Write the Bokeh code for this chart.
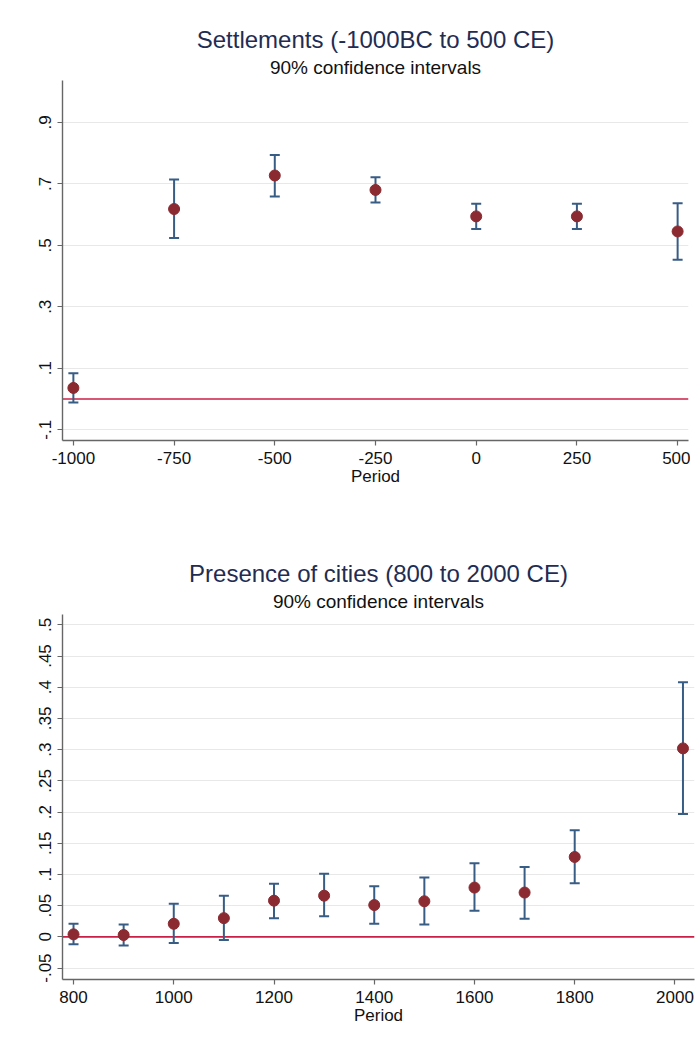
from bokeh.plotting import figure
from bokeh.models import Range1d, FixedTicker, Span, Title, ColumnDataSource
from bokeh.layouts import column
from bokeh.embed import file_html
from bokeh.resources import INLINE

# ---- data: Settlements (-1000BC to 500 CE)
periods1 = [-1000, -750, -500, -250, 0, 250, 500]
coef1 = [0.036, 0.618, 0.727, 0.680, 0.594, 0.594, 0.545]
lo1 = [-0.011, 0.524, 0.659, 0.639, 0.553, 0.553, 0.453]
hi1 = [0.084, 0.714, 0.794, 0.721, 0.635, 0.635, 0.637]
xticks1 = [-1000, -750, -500, -250, 0, 250, 500]
xlabels1 = ["-1000", "-750", "-500", "-250", "0", "250", "500"]
yticks1 = [-0.1, 0.1, 0.3, 0.5, 0.7, 0.9]
ylabels1 = ["-.1", ".1", ".3", ".5", ".7", ".9"]

# ---- data: Presence of cities (800 to 2000 CE)
periods2 = [800, 900, 1000, 1100, 1200, 1300, 1400, 1500, 1600, 1700, 1800, 2016]
coef2 = [0.004, 0.003, 0.021, 0.030, 0.058, 0.066, 0.051, 0.057, 0.079, 0.071, 0.128, 0.302]
lo2 = [-0.012, -0.014, -0.010, -0.005, 0.030, 0.033, 0.021, 0.020, 0.042, 0.029, 0.086, 0.197]
hi2 = [0.021, 0.020, 0.053, 0.066, 0.085, 0.101, 0.081, 0.095, 0.118, 0.112, 0.171, 0.408]
xticks2 = [800, 1000, 1200, 1400, 1600, 1800, 2000]
xlabels2 = ["800", "1000", "1200", "1400", "1600", "1800", "2000"]
yticks2 = [-0.05, 0, 0.05, 0.1, 0.15, 0.2, 0.25, 0.3, 0.35, 0.4, 0.45, 0.5]
ylabels2 = ["-.05", "0", ".05", ".1", ".15", ".2", ".25", ".3", ".35", ".4", ".45", ".5"]

FONT = "Liberation Sans"
TITLE_C = "#1f2d52"
DOT_C = "#8b2a30"
BAR_C = "#385d85"
ZERO_C = "#cc1f46"
AXIS_C = "#666666"
GRID_C = "#e8e8e8"


def make_panel(title, subtitle, x, y, lo, hi, xr, yr, xticks, xlabels, yticks, ylabels,
               width, height, mb_left, mb_right, mb_top, mb_bottom):
    p = figure(width=width, height=height, output_backend="svg", toolbar_location=None,
               x_range=Range1d(*xr), y_range=Range1d(*yr),
               min_border_left=mb_left, min_border_right=mb_right,
               min_border_top=mb_top, min_border_bottom=mb_bottom)
    p.outline_line_color = None
    p.background_fill_color = "white"
    p.border_fill_color = "white"

    sub = Title(text=subtitle, align="center", text_font=FONT, text_font_size="19px",
                text_font_style="normal", text_color="#111111", standoff=5)
    main = Title(text=title, align="center", text_font=FONT, text_font_size="24px",
                 text_font_style="normal", text_color=TITLE_C, standoff=0)
    p.add_layout(sub, "above")
    p.add_layout(main, "above")

    # grid
    p.xgrid.grid_line_color = None
    p.ygrid.grid_line_color = GRID_C
    p.ygrid.grid_line_width = 1.2

    # axes
    p.xaxis.ticker = FixedTicker(ticks=xticks)
    p.xaxis.major_label_overrides = {t: l for t, l in zip(xticks, xlabels)}
    p.yaxis.ticker = FixedTicker(ticks=yticks)
    p.yaxis.major_label_overrides = {t: l for t, l in zip(yticks, ylabels)}
    p.yaxis.major_label_orientation = "vertical"
    p.xaxis.axis_label = "Period"
    for ax in (p.xaxis, p.yaxis):
        ax.axis_line_color = AXIS_C
        ax.axis_line_width = 1.4
        ax.major_tick_line_color = AXIS_C
        ax.major_tick_line_width = 1.2
        ax.major_tick_out = 5
        ax.major_tick_in = 0
        ax.minor_tick_line_color = None
        ax.major_label_text_font = FONT
        ax.major_label_text_font_size = "17px"
        ax.major_label_text_color = "#111111"
        ax.major_label_standoff = 6
    p.xaxis.axis_label_text_font = FONT
    p.xaxis.axis_label_text_font_size = "17px"
    p.xaxis.axis_label_text_font_style = "normal"
    p.xaxis.axis_label_text_color = "#111111"
    p.xaxis.axis_label_standoff = 0

    zero = Span(location=0, dimension="width", line_color=ZERO_C, line_width=1.6, level="underlay")
    p.add_layout(zero)

    src = ColumnDataSource(dict(x=x, y=y, lo=lo, hi=hi))
    p.segment(x0="x", y0="lo", x1="x", y1="hi", source=src, line_color=BAR_C, line_width=2)
    p.scatter(x="x", y="hi", source=src, marker="dash", size=10, line_color=BAR_C, line_width=2)
    p.scatter(x="x", y="lo", source=src, marker="dash", size=10, line_color=BAR_C, line_width=2)
    p.scatter(x="x", y="y", source=src, marker="circle", size=11,
              fill_color=DOT_C, line_color=DOT_C)
    return p


p1 = make_panel("Settlements (-1000BC to 500 CE)", "90% confidence intervals",
                periods1, coef1, lo1, hi1, (-1027, 527), (-0.135, 1.036),
                xticks1, xlabels1, yticks1, ylabels1,
                width=690, height=538, mb_left=62, mb_right=2, mb_top=80, mb_bottom=98)

p2 = make_panel("Presence of cities (800 to 2000 CE)", "90% confidence intervals",
                periods2, coef2, lo2, hi2, (778, 2039), (-0.0683, 0.5165),
                xticks2, xlabels2, yticks2, ylabels2,
                width=696, height=503, mb_left=59, mb_right=2, mb_top=76, mb_bottom=62)

layout = column(p1, p2, spacing=0)
open("out.html", "w").write(file_html(layout, INLINE))
